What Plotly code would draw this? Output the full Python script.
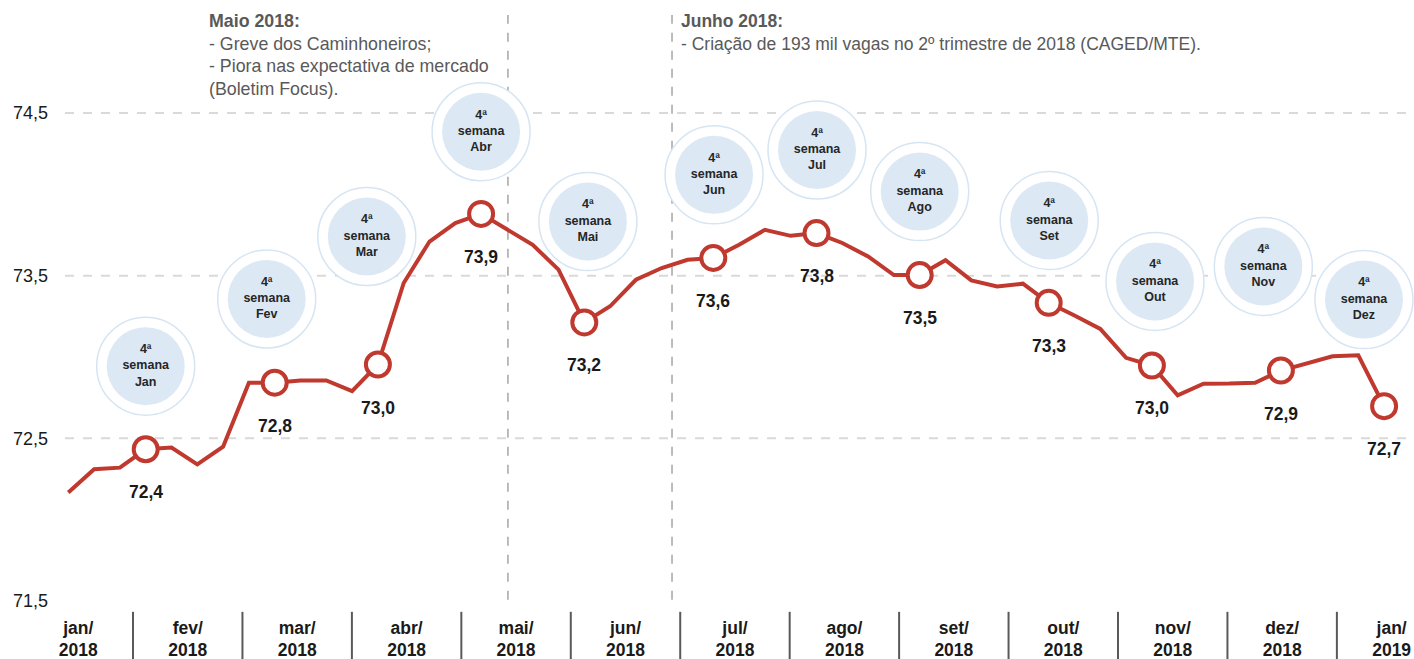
import plotly.graph_objects as go

# ---------------- data ----------------
week_index = list(range(52))
weekly_values = [
    72.167, 72.310, 72.320, 72.433, 72.443, 72.340, 72.449, 72.842, 72.842, 72.856,
    72.856, 72.790, 72.954, 73.455, 73.710, 73.823, 73.880, 73.788, 73.690, 73.537,
    73.213, 73.312, 73.475, 73.547, 73.598, 73.609, 73.690, 73.782, 73.745, 73.762,
    73.701, 73.618, 73.504, 73.504, 73.595, 73.471, 73.434, 73.451, 73.333, 73.255,
    73.173, 72.995, 72.948, 72.764, 72.836, 72.837, 72.842, 72.917, 72.964, 73.005,
    73.011, 72.698,
]
highlight_weeks = [3, 8, 12, 16, 20, 25, 29, 33, 38, 42, 47, 51]
highlight_labels = ["72,4", "72,8", "73,0", "73,9", "73,2", "73,6",
                    "73,8", "73,5", "73,3", "73,0", "72,9", "72,7"]
bubble_months = ["Jan", "Fev", "Mar", "Abr", "Mai", "Jun",
                 "Jul", "Ago", "Set", "Out", "Nov", "Dez"]
month_labels = ["jan/<br>2018", "fev/<br>2018", "mar/<br>2018", "abr/<br>2018",
                "mai/<br>2018", "jun/<br>2018", "jul/<br>2018", "ago/<br>2018",
                "set/<br>2018", "out/<br>2018", "nov/<br>2018", "dez/<br>2018",
                "jan/<br>2019"]
y_ticks = [71.5, 72.5, 73.5, 74.5]
event_weeks = [17.04, 23.4]

# ---------------- layout helpers ----------------
X_RANGE = [-0.128, 52.159]
Y_RANGE = [71.5, 75.195]
WEEKS_PER_MONTH = 4.242
month_centers = [0.388 + WEEKS_PER_MONTH * i for i in range(len(month_labels))]
month_bounds = [2.508 + WEEKS_PER_MONTH * i for i in range(len(month_labels) - 1)]

# bubble placement (x offset in weeks from the highlighted week, y in axis units)
bubble_dx = [0.0, -0.31, -0.43, 0.0, 0.14, 0.03, 0.02, 0.0, 0.02, 0.12, -0.68, -0.78]
bubble_y = [72.944, 73.357, 73.741, 74.385, 73.833, 74.120,
            74.273, 74.017, 73.839, 73.465, 73.557, 73.353]
bubble_x = [w + d for w, d in zip(highlight_weeks, bubble_dx)]

RED = "#c0392f"
GRID = "#d9d9d9"
TEXT_GRAY = "#595959"
FONT = "Liberation Sans, Arial, sans-serif"
NARROW = "Liberation Sans Narrow, Arial Narrow, Liberation Sans, Arial, sans-serif"

def xpaper(k):
    return (k - X_RANGE[0]) / (X_RANGE[1] - X_RANGE[0])

fig = go.Figure()

# bubbles: outer ring
fig.add_trace(go.Scatter(
    x=bubble_x, y=bubble_y, mode="markers", hoverinfo="skip",
    marker=dict(size=98, color="white", line=dict(color="#d6e5f3", width=1.5)),
    showlegend=False, cliponaxis=False,
))
# bubbles: inner disc with text
fig.add_trace(go.Scatter(
    x=bubble_x, y=bubble_y, mode="markers+text", hoverinfo="skip",
    marker=dict(size=78, color="#dce9f5", line=dict(width=0)),
    text=["4ª<br>semana<br>" + m for m in bubble_months],
    textposition="middle center",
    textfont=dict(family=FONT, size=12.5, color="#262626", weight="bold"),
    showlegend=False, cliponaxis=False,
))

# main line
fig.add_trace(go.Scatter(
    x=week_index, y=weekly_values, mode="lines", hoverinfo="skip",
    line=dict(color=RED, width=4), showlegend=False,
))
# highlighted markers
fig.add_trace(go.Scatter(
    x=highlight_weeks, y=[weekly_values[i] for i in highlight_weeks],
    mode="markers", hoverinfo="skip",
    marker=dict(size=24, color="white", line=dict(color=RED, width=4)),
    showlegend=False, cliponaxis=False,
))

shapes = []
# horizontal dashed gridlines
for yv in y_ticks[1:]:
    shapes.append(dict(type="line", xref="paper", yref="y", x0=0, x1=1, y0=yv, y1=yv,
                       line=dict(color=GRID, width=2, dash="dash"), layer="below"))
# event vertical lines
for xv in event_weeks:
    shapes.append(dict(type="line", xref="x", yref="paper", x0=xv, x1=xv,
                       y0=0.002, y1=0.975,
                       line=dict(color="#a6a6a6", width=1.5, dash="dash"), layer="below"))
# month separators below the axis
for xv in month_bounds:
    shapes.append(dict(type="line", xref="paper", yref="paper",
                       x0=xpaper(xv), x1=xpaper(xv), y0=-0.018, y1=-0.0965,
                       line=dict(color="#595959", width=2)))

annotations = []
for w, lab in zip(highlight_weeks, highlight_labels):
    annotations.append(dict(x=w, y=weekly_values[w], xref="x", yref="y", text="<b>" + lab + "</b>",
                            showarrow=False, yshift=-43,
                            font=dict(family=FONT, size=17.5, color="#1a1a1a")))

PLOT_H = 601.0
def ypaper(px):
    return 1 - px / PLOT_H

maio_lines = ["<b>Maio 2018:</b>", "- Greve dos Caminhoneiros;",
              "- Piora nas expectativa de mercado", "(Boletim Focus)."]
for i, t in enumerate(maio_lines):
    annotations.append(dict(x=(207 - 65) / 1349, y=ypaper(21 + 22.7 * i), xref="paper", yref="paper",
                            xanchor="left", yanchor="middle", text=t, showarrow=False,
                            font=dict(family=FONT, size=17.8, color=TEXT_GRAY)))
junho_lines = ["<b>Junho 2018:</b>",
               "- Criação de 193 mil vagas no 2º trimestre de 2018 (CAGED/MTE)."]
for i, t in enumerate(junho_lines):
    annotations.append(dict(x=(679 - 65) / 1349, y=ypaper(21 + 22.7 * i), xref="paper", yref="paper",
                            xanchor="left", yanchor="middle", text=t, showarrow=False,
                            font=dict(family=FONT, size=17.5, color=TEXT_GRAY)))

fig.update_layout(
    width=1414, height=659,
    margin=dict(l=65, r=0, t=0, b=58),
    paper_bgcolor="white", plot_bgcolor="white",
    separators=", ",
    shapes=shapes, annotations=annotations,
    xaxis=dict(range=X_RANGE, showgrid=False, zeroline=False, showline=False,
               tickmode="array", tickvals=month_centers, ticktext=month_labels,
               ticks="", ticklabelstandoff=14,
               tickfont=dict(family=NARROW, size=17.5, color="#1a1a1a", weight="bold")),
    yaxis=dict(range=Y_RANGE, showgrid=False, zeroline=False, showline=False,
               tickmode="array", tickvals=y_ticks, tickformat=".1f",
               ticks="", ticklabelstandoff=16,
               tickfont=dict(family=FONT, size=18, color="#1a1a1a")),
)

fig.write_html(
    "out.html",
    config={"displayModeBar": False},
    post_script="document.body.style.margin='0';document.body.style.padding='0';",
)
